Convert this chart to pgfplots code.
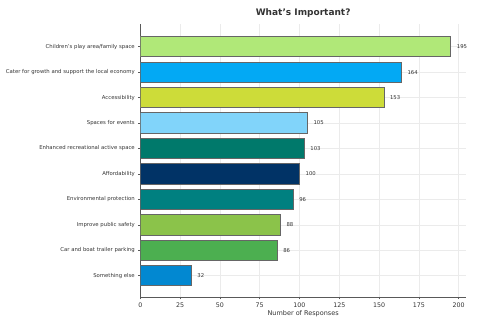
\documentclass[border=0pt]{standalone}
\usepackage{pgfplots}
\pgfplotsset{compat=1.18}
\usepackage{fontspec}
\setmainfont{DejaVu Sans}
\usetikzlibrary{calc}
\definecolor{c1}{RGB}{176,232,120}
\definecolor{c2}{RGB}{3,169,244}
\definecolor{c3}{RGB}{205,220,57}
\definecolor{c4}{RGB}{129,212,250}
\definecolor{c5}{RGB}{0,121,107}
\definecolor{c6}{RGB}{1,51,102}
\definecolor{c7}{RGB}{0,128,128}
\definecolor{c8}{RGB}{139,195,74}
\definecolor{c9}{RGB}{76,175,80}
\definecolor{c10}{RGB}{2,136,209}
\definecolor{txt}{RGB}{51,51,51}
\begin{document}
\begin{tikzpicture}
\begin{axis}[
  name=ax,
  scale only axis,
  width=325.7bp, height=273.3bp,
  xbar, bar width=0.8, bar shift=0pt,
  xmin=0, xmax=204.6,
  ymin=-0.85, ymax=9.89,
  ytick={0,...,9},
  yticklabels={Something else,Car and boat trailer parking,Improve public safety,Environmental protection,Affordability,Enhanced recreational active space,Spaces for events,Accessibility,Cater for growth and support the local economy,Children's play area/family space},
  xtick={0,25,...,200},
  axis x line*=bottom, axis y line*=left,
  axis line style={black!65, line width=0.8bp, -},
  tick align=outside, major tick length=2bp,
  tick style={black!65, line width=0.5bp},
  grid=major, major grid style={black!8, line width=0.4bp},
  /pgf/number format/assume math mode=true,
  yticklabel style={font=\fontsize{5.35bp}{6bp}\selectfont, text=txt},
  xticklabel style={font=\fontsize{6.3bp}{7bp}\selectfont, text=txt},
  xlabel={Number of Responses},
  xlabel style={font=\fontsize{6.5bp}{7bp}\selectfont, text=txt, yshift=4bp},
  title={\textbf{What's Important?}},
  title style={font=\fontsize{9bp}{10bp}\selectfont, text=txt, yshift=-3bp},
  nodes near coords,
  every node near coord/.append style={font=\fontsize{5.3bp}{6bp}\selectfont, text=txt, anchor=west, xshift=2.5bp},
  every axis plot/.append style={draw=black!60, line width=0.7bp},
]
\addplot[fill=c10] coordinates {(32,0)};
\addplot[fill=c9] coordinates {(86,1)};
\addplot[fill=c8] coordinates {(88,2)};
\addplot[fill=c7] coordinates {(96,3)};
\addplot[fill=c6] coordinates {(100,4)};
\addplot[fill=c5] coordinates {(103,5)};
\addplot[fill=c4] coordinates {(105,6)};
\addplot[fill=c3] coordinates {(153,7)};
\addplot[fill=c2] coordinates {(164,8)};
\addplot[fill=c1] coordinates {(195,9)};
\end{axis}
\pgfresetboundingbox
\path[use as bounding box] ($(ax.south west)+(-140.3bp,-34.7bp)$) rectangle ($(ax.north east)+(34bp,24bp)$);
\end{tikzpicture}
\end{document}
